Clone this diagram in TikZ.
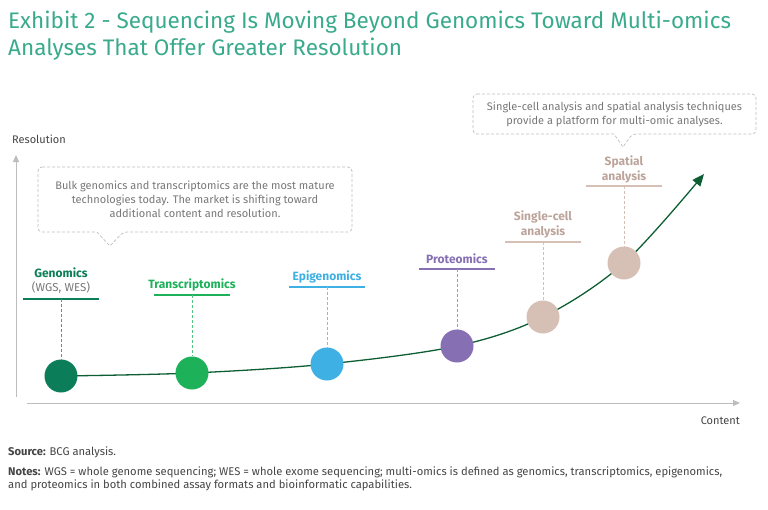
\documentclass[tikz,border=0pt]{standalone}
\usepackage{fontspec}
\setmainfont{Fira Sans}
\usetikzlibrary{arrows.meta}
\definecolor{titlec}{HTML}{3AAA8C}
\definecolor{genc}{HTML}{0B7D58}
\definecolor{trac}{HTML}{1DB15A}
\definecolor{epic}{HTML}{3FB0E4}
\definecolor{proc}{HTML}{8670B3}
\definecolor{begc}{HTML}{D6C0B5}
\definecolor{begt}{HTML}{BCA49A}
\definecolor{curvec}{HTML}{0D5E32}
\definecolor{axisc}{HTML}{BDBDBD}
\definecolor{textg}{HTML}{777777}
\definecolor{textd}{HTML}{444444}
\tikzset{
  dot/.style={circle, minimum size=33pt, inner sep=0pt},
  lab/.style={font=\fontsize{12}{15}\selectfont\bfseries, inner sep=0pt, align=center},
  uline/.style={line width=1.2pt},
  drop/.style={dash pattern=on 3pt off 2pt, line width=0.7pt},
  callout/.style={draw=axisc, dash pattern=on 3pt off 2pt, line width=0.7pt, rounded corners=4pt},
  ctext/.style={font=\fontsize{11}{14}\selectfont, text=textg, align=center, inner sep=0pt},
  axis/.style={draw=axisc, line width=1pt, -{Triangle[length=7pt,width=6pt]}},
  foot/.style={font=\fontsize{11.2}{13.5}\selectfont, text=textd, anchor=west, align=left, inner sep=0pt}
}
\begin{document}
\begin{tikzpicture}[x=1pt,y=-1pt]
\useasboundingbox (0,0) rectangle (768,509);

% title
\node[anchor=north west, align=left, inner sep=0pt, text=titlec,
  font=\fontsize{22.5}{27}\selectfont] (title) at (8,11)
  {Exhibit 2 - Sequencing Is Moving Beyond Genomics Toward Multi-omics\\Analyses That Offer Greater Resolution};

% axes
\coordinate (yb) at (16,397);
\coordinate (yt) at (16,155);
\coordinate (xl) at (27,403);
\coordinate (xr) at (740,403);
\draw[axis] (yb) -- (yt);
\draw[axis] (xl) -- (xr);
\node[anchor=west, inner sep=0pt, text=textd, font=\fontsize{11}{13}\selectfont] (reslab) at (12,139) {Resolution};
\node[anchor=east, inner sep=0pt, text=textd, font=\fontsize{11}{13}\selectfont] (conlab) at (740,421) {Content};

% circles positions
\coordinate (g) at (61,376);
\coordinate (t) at (192,373);
\coordinate (e) at (327,364);
\coordinate (p) at (457,346);
\coordinate (s) at (543,317);
\coordinate (sp) at (624,263);
\coordinate (tip) at (704,174);

% curve
\draw[curvec, line width=1.3pt, -{Triangle[length=12pt,width=10pt]}]
  plot[smooth, tension=0.55] coordinates {(g) (t) (e) (p) (s) (sp) (tip)};

% circles
\node[dot, fill=genc] (gc) at (g) {};
\node[dot, fill=trac] (tc) at (t) {};
\node[dot, fill=epic] (ec) at (e) {};
\node[dot, fill=proc] (pc) at (p) {};
\node[dot, fill=begc] (sc) at (s) {};
\node[dot, fill=begc] (spc) at (sp) {};

% labels
\node[lab, text=genc] (gl) at (61,273) {Genomics};
\node[font=\fontsize{11.5}{14}\selectfont, text=textg, inner sep=0pt] (gl2) at (61,288) {(WGS, WES)};
\coordinate (gu) at (61,299);
\draw[genc, uline] (23,299) -- (99,299);
\draw[genc!75, drop] (gu) -- (gc.north);

\node[lab, text=trac] (tl) at (192,285) {Transcriptomics};
\coordinate (tu) at (192,295);
\draw[trac, uline] (154,295) -- (230,295);
\draw[trac!75, drop] (tu) -- (tc.north);

\node[lab, text=epic] (el) at (327,277) {Epigenomics};
\coordinate (eu) at (327,287);
\draw[epic, uline] (289,287) -- (365,287);
\draw[epic!75, drop] (eu) -- (ec.north);

\node[lab, text=proc] (pl) at (457,259) {Proteomics};
\coordinate (pu) at (457,269);
\draw[proc, uline] (419,269) -- (495,269);
\draw[proc!75, drop] (pu) -- (pc.north);

\node[lab, text=begt] (sl) at (543,224.5) {Single-cell\\analysis};
\coordinate (su) at (543,242);
\draw[begc, uline] (505,242) -- (581,242);
\draw[begc, drop] (su) -- (sc.north);

\node[lab, text=begt] (spl) at (624,169.5) {Spatial\\analysis};
\coordinate (spu) at (624,186);
\draw[begc, uline] (586,186) -- (662,186);
\draw[begc, drop] (spu) -- (spc.north);

% callout 1
\draw[callout] (38,167) -- (352,167) -- (352,232) -- (123,232)
  {[sharp corners] -- (110,246) -- (97,232)} -- (38,232) -- cycle;
\node[ctext] (c1) at (195,199.5) {Bulk genomics and transcriptomics are the most mature\\technologies today. The market is shifting toward\\additional content and resolution.};

% callout 2
\draw[callout] (473,94) -- (756,94) -- (756,134) -- (632,134)
  {[sharp corners] -- (623,147) -- (614,134)} -- (473,134) -- cycle;
\node[ctext] (c2) at (614.5,114) {Single-cell analysis and spatial analysis techniques\\provide a platform for multi-omic analyses.};

% footer
\node[foot] (src) at (8,452) {\textbf{Source:} BCG analysis.};
\node[foot] (notes) at (8,479) {\textbf{Notes:} WGS = whole genome sequencing; WES = whole exome sequencing; multi-omics is defined as genomics, transcriptomics, epigenomics,\\and proteomics in both combined assay formats and bioinformatic capabilities.};
\end{tikzpicture}
\end{document}
